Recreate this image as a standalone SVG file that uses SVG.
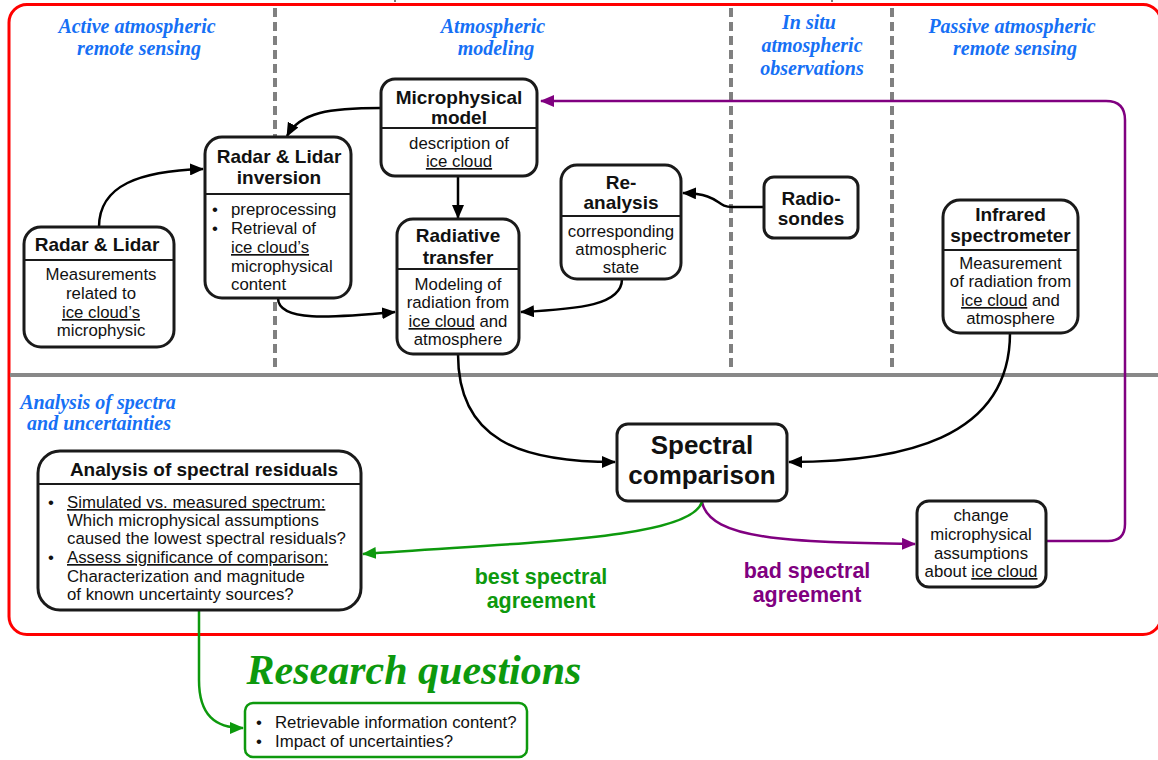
<svg xmlns="http://www.w3.org/2000/svg" width="1158" height="760" viewBox="0 0 1158 760">
  <defs>
    <marker id="ah-black" viewBox="0 0 14 12" refX="13" refY="6" markerWidth="14" markerHeight="12" markerUnits="userSpaceOnUse" orient="auto">
      <path d="M0,0 L14,6 L0,12 Z" fill="#000"/>
    </marker>
    <marker id="ah-purple" viewBox="0 0 14 12" refX="13" refY="6" markerWidth="14" markerHeight="12" markerUnits="userSpaceOnUse" orient="auto">
      <path d="M0,0 L14,6 L0,12 Z" fill="#800080"/>
    </marker>
    <marker id="ah-green" viewBox="0 0 14 12" refX="13" refY="6" markerWidth="14" markerHeight="12" markerUnits="userSpaceOnUse" orient="auto">
      <path d="M0,0 L14,6 L0,12 Z" fill="#0d990d"/>
    </marker>
  </defs>
  <style>
    .box { fill: #fff; stroke: #1a1a1a; stroke-width: 3; }
    .div { stroke: #1a1a1a; stroke-width: 2; }
    .hd { font-family: "Liberation Sans", Arial, sans-serif; font-weight: bold; font-size: 19px; fill: #111; text-anchor: middle; }
    .bd { font-family: "Liberation Sans", Arial, sans-serif; font-size: 16.8px; fill: #111; }
    .c { text-anchor: middle; }
    .u { text-decoration: underline; }
    .sec { font-family: "Liberation Serif", "Times New Roman", serif; font-weight: bold; font-style: italic; font-size: 20px; fill: #1670f5; text-anchor: middle; }
    .dash { stroke: #808080; stroke-width: 4; stroke-dasharray: 9 5; fill: none; }
    .con { fill: none; stroke: #000; stroke-width: 2.5; }
    .conP { fill: none; stroke: #800080; stroke-width: 2.5; }
    .conG { fill: none; stroke: #0d990d; stroke-width: 2.5; }
    .lblG { font-family: "Liberation Sans", Arial, sans-serif; font-weight: bold; font-size: 21.5px; fill: #0d990d; text-anchor: middle; }
    .lblP { font-family: "Liberation Sans", Arial, sans-serif; font-weight: bold; font-size: 21.5px; fill: #800080; text-anchor: middle; }
  </style>

  <rect width="1158" height="760" fill="#fff"/>

  <!-- frame, separators and section titles -->
  <g id="frame">
    <rect x="9" y="4.5" width="1152" height="630" rx="18" ry="18" fill="none" stroke="#ff0000" stroke-width="3"/>
    <line x1="395" y1="0" x2="395" y2="2" stroke="#555" stroke-width="1.5"/>
    <line x1="832" y1="0" x2="832" y2="2" stroke="#555" stroke-width="1.5"/>
    <line class="dash" x1="275" y1="8" x2="275" y2="372"/>
    <line class="dash" x1="731" y1="8" x2="731" y2="372"/>
    <line class="dash" x1="892" y1="8" x2="892" y2="372"/>
    <line x1="10" y1="375" x2="1158" y2="375" stroke="#888" stroke-width="4"/>
    <text class="sec" x="137" y="33">Active atmospheric</text>
    <text class="sec" x="139" y="55">remote sensing</text>
    <text class="sec" x="493" y="33">Atmospheric</text>
    <text class="sec" x="496" y="55">modeling</text>
    <text class="sec" x="809" y="29">In situ</text>
    <text class="sec" x="812" y="52">atmospheric</text>
    <text class="sec" x="812" y="75">observations</text>
    <text class="sec" x="1012" y="33">Passive atmospheric</text>
    <text class="sec" x="1015" y="55">remote sensing</text>
    <text class="sec" x="98" y="409">Analysis of spectra</text>
    <text class="sec" x="99" y="430">and uncertainties</text>
  </g>

  <!-- connectors -->
  <g id="connectors">
    <path class="con" d="M99,227 C99,185 140,171 203,169" marker-end="url(#ah-black)"/>
    <path class="con" d="M381,108 C330,108 300,112 287,136" marker-end="url(#ah-black)"/>
    <path class="con" d="M458,176 L458,218" marker-end="url(#ah-black)"/>
    <path class="con" d="M278,298 C278,322 330,318 395,312" marker-end="url(#ah-black)"/>
    <path class="con" d="M622,279 C622,305 580,309 521,312" marker-end="url(#ah-black)"/>
    <path class="con" d="M764,207 L732,207 C715,207 722,194 683,193" marker-end="url(#ah-black)"/>
    <path class="con" d="M458,354 C458,440 520,462 615,462" marker-end="url(#ah-black)"/>
    <path class="con" d="M1010,333 C1010,440 900,462 789,462" marker-end="url(#ah-black)"/>
    <path class="conP" d="M702,502 C710,540 790,542 915,544" marker-end="url(#ah-purple)"/>
    <path class="conP" d="M1046,541 L1108,541 Q1125,541 1125,524 L1125,120 Q1125,101 1106,101 L541,101" marker-end="url(#ah-purple)"/>
    <path class="conG" d="M702,502 C690,540 520,542 363,554" marker-end="url(#ah-green)"/>
    <path class="conG" d="M199,610 L199,680 C199,715 215,728 243,728" marker-end="url(#ah-green)"/>
    <text class="lblG" x="541" y="584">best spectral</text>
    <text class="lblG" x="541" y="608">agreement</text>
    <text class="lblP" x="807" y="578">bad spectral</text>
    <text class="lblP" x="807" y="602">agreement</text>
  </g>

  <g id="microphysical-model">
    <rect class="box" x="381" y="79" width="156" height="97" rx="14"/>
    <line class="div" x1="382" y1="128" x2="536" y2="128"/>
    <text class="hd" x="459" y="103.5">Microphysical</text>
    <text class="hd" x="459" y="123.5">model</text>
    <text class="bd c" x="459" y="149">description of</text>
    <text class="bd c u" x="459" y="167">ice cloud</text>
  </g>

  <g id="radar-lidar-inversion">
    <rect class="box" x="205" y="137" width="146" height="161" rx="17"/>
    <line class="div" x1="206" y1="194" x2="350" y2="194"/>
    <text class="hd" x="279" y="162.5">Radar &amp; Lidar</text>
    <text class="hd" x="279" y="183.5">inversion</text>
    <text class="bd" x="212" y="215">•</text>
    <text class="bd" x="231" y="215">preprocessing</text>
    <text class="bd" x="212" y="234">•</text>
    <text class="bd" x="231" y="234">Retrieval of</text>
    <text class="bd u" x="231" y="253">ice cloud’s</text>
    <text class="bd" x="231" y="272">microphysical</text>
    <text class="bd" x="231" y="290">content</text>
  </g>

  <g id="radar-lidar">
    <rect class="box" x="24" y="227" width="150" height="120" rx="17"/>
    <line class="div" x1="25" y1="260" x2="173" y2="260"/>
    <text class="hd" x="97" y="250.5">Radar &amp; Lidar</text>
    <text class="bd c" x="101" y="280">Measurements</text>
    <text class="bd c" x="101" y="299">related to</text>
    <text class="bd c u" x="101" y="318">ice cloud’s</text>
    <text class="bd c" x="101" y="336">microphysic</text>
  </g>

  <g id="radiative-transfer">
    <rect class="box" x="397" y="219" width="122" height="135" rx="16"/>
    <line class="div" x1="398" y1="269" x2="518" y2="269"/>
    <text class="hd" x="458" y="241.5">Radiative</text>
    <text class="hd" x="458" y="263.5">transfer</text>
    <text class="bd c" x="458" y="290">Modeling of</text>
    <text class="bd c" x="458" y="308">radiation from</text>
    <text class="bd c" x="458" y="327"><tspan class="u">ice cloud</tspan> and</text>
    <text class="bd c" x="458" y="345">atmosphere</text>
  </g>

  <g id="re-analysis">
    <rect class="box" x="561" y="165" width="120" height="114" rx="16"/>
    <line class="div" x1="562" y1="216" x2="680" y2="216"/>
    <text class="hd" x="621" y="188.5">Re-</text>
    <text class="hd" x="621" y="208.5">analysis</text>
    <text class="bd c" x="621" y="237">corresponding</text>
    <text class="bd c" x="621" y="255">atmospheric</text>
    <text class="bd c" x="621" y="273">state</text>
  </g>

  <g id="radiosondes">
    <rect class="box" x="764" y="177" width="94" height="61" rx="10"/>
    <text class="hd" x="811" y="204.5">Radio-</text>
    <text class="hd" x="811" y="224.5">sondes</text>
  </g>

  <g id="infrared-spectrometer">
    <rect class="box" x="943" y="200" width="135" height="133" rx="17"/>
    <line class="div" x1="944" y1="250" x2="1077" y2="250"/>
    <text class="hd" x="1010.5" y="220.5">Infrared</text>
    <text class="hd" x="1010.5" y="241.5">spectrometer</text>
    <text class="bd c" x="1010.5" y="269">Measurement</text>
    <text class="bd c" x="1010.5" y="287">of radiation from</text>
    <text class="bd c" x="1010.5" y="306"><tspan class="u">ice cloud</tspan> and</text>
    <text class="bd c" x="1010.5" y="324">atmosphere</text>
  </g>

  <g id="spectral-comparison">
    <rect class="box" x="617" y="424" width="170" height="77" rx="11"/>
    <text class="hd" x="702" y="454" style="font-size:26px">Spectral</text>
    <text class="hd" x="702" y="484" style="font-size:26px">comparison</text>
  </g>

  <g id="change-assumptions">
    <rect class="box" x="917" y="501" width="129" height="86" rx="12"/>
    <text class="bd c" x="981" y="521">change</text>
    <text class="bd c" x="981" y="540">microphysical</text>
    <text class="bd c" x="981" y="559">assumptions</text>
    <text class="bd c" x="981" y="577">about <tspan class="u">ice cloud</tspan></text>
  </g>

  <g id="analysis-residuals">
    <rect class="box" x="38" y="451" width="323" height="159" rx="22"/>
    <line class="div" x1="39" y1="484" x2="360" y2="484"/>
    <text class="hd" x="204" y="475.5">Analysis of spectral residuals</text>
    <text class="bd" x="48" y="508">•</text>
    <text class="bd u" x="67" y="508">Simulated vs. measured spectrum:</text>
    <text class="bd" x="67" y="526">Which microphysical assumptions</text>
    <text class="bd" x="67" y="544">caused the lowest spectral residuals?</text>
    <text class="bd" x="48" y="563">•</text>
    <text class="bd u" x="67" y="563">Assess significance of comparison:</text>
    <text class="bd" x="67" y="582">Characterization and magnitude</text>
    <text class="bd" x="67" y="600">of known uncertainty sources?</text>
  </g>

  <g id="research-questions">
    <text x="414" y="684" style="font-family:'Liberation Serif','Times New Roman',serif;font-weight:bold;font-style:italic;font-size:42px;fill:#0d990d;text-anchor:middle">Research questions</text>
    <rect x="245" y="703" width="282" height="54" rx="8" fill="#fff" stroke="#0d990d" stroke-width="2.5"/>
    <text class="bd" x="256" y="728">•</text>
    <text class="bd" x="275" y="728">Retrievable information content?</text>
    <text class="bd" x="256" y="747">•</text>
    <text class="bd" x="275" y="747">Impact of uncertainties?</text>
  </g>
</svg>
